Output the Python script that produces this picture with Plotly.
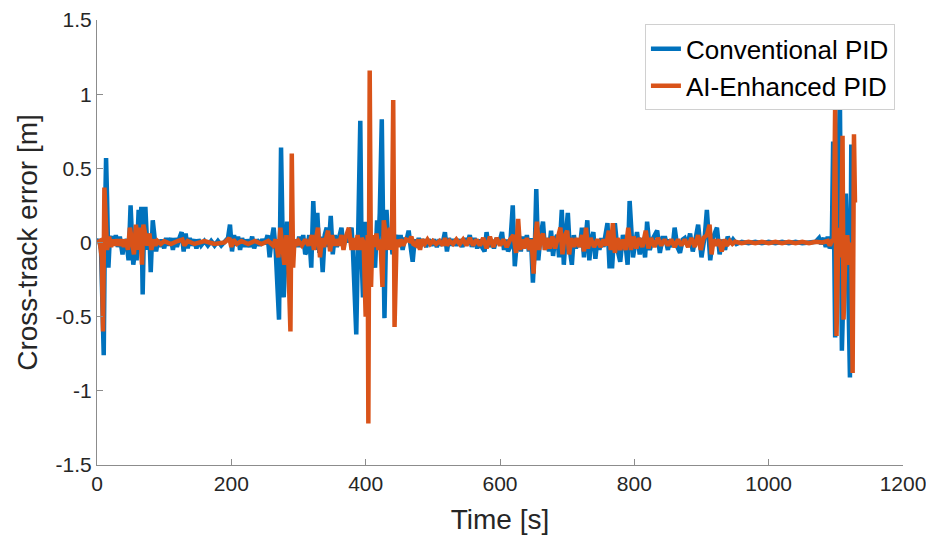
import plotly.graph_objects as go

# Conventional PID cross-track error (time [s], error [m])
t_conv = [0, 3, 6, 8, 10, 12, 13.5, 15, 17, 19, 22, 25, 28, 31, 34, 38, 41, 44, 47, 50,
          52, 54, 57, 59, 62, 64, 66, 68, 70, 72, 74, 76, 78, 80, 83, 85, 88, 91, 94, 97,
          100, 103, 106, 110, 113, 116, 119, 122, 126, 129, 132, 135, 138, 141, 145, 148, 151, 155, 160, 165,
          170, 175, 180, 185, 190, 195, 198, 201, 204, 207, 210, 213, 216, 220, 223, 227, 231, 234, 238, 242,
          246, 250, 254, 257, 260, 263, 266, 268, 271, 274, 276, 278, 281, 283, 286, 289, 292, 295, 298, 301,
          304, 307, 310, 313, 316, 319, 322, 325, 328, 331, 333, 336, 339, 342, 345, 348, 351, 354, 357, 360,
          364, 367, 370, 373, 376, 379, 381, 383, 386, 389, 392, 394, 396, 399, 401, 404, 408, 411, 414, 417,
          419, 421, 424, 426, 428, 431, 434, 437, 440, 443, 446, 449, 452, 455, 458, 461, 464, 467, 470, 473,
          476, 479, 482, 486, 490, 494, 498, 502, 506, 510, 514, 518, 521, 524, 527, 531, 535, 540, 544, 548,
          551, 555, 558, 562, 566, 570, 573, 577, 580, 583, 587, 591, 595, 599, 603, 606, 609, 612, 615, 619,
          622, 625, 628, 631, 634, 637, 640, 643, 646, 649, 652, 654, 657, 660, 664, 667, 670, 673, 676, 679,
          682, 685, 688, 692, 695, 698, 701, 704, 707, 710, 713, 716, 719, 722, 725, 728, 730, 733, 736, 739,
          742, 745, 748, 751, 754, 757, 760, 763, 767, 771, 775, 779, 783, 787, 790, 793, 798, 804, 808, 812,
          816, 819, 823, 828, 834, 838, 842, 846, 850, 853, 857, 860, 864, 868, 872, 875, 879, 883, 887, 891,
          895, 900, 905, 908, 913, 917, 923, 927, 931, 935, 939, 943, 947, 952, 960, 970, 980, 990, 1000, 1010,
          1020, 1030, 1040, 1050, 1060, 1070, 1075, 1078, 1082, 1085, 1088, 1091, 1094, 1096, 1099, 1102, 1106, 1109, 1112, 1115,
          1117, 1121, 1123, 1125]
e_conv = [0.0, 0.02, -0.05, -0.45, -0.76, 0.2, 0.57, 0.3, -0.17, 0.02, 0.04, -0.02, 0.05, -0.03, 0.04, -0.08, 0.02, 0.0, -0.12, 0.25,
          0.1, -0.15, -0.05, -0.12, 0.22, 0.05, 0.24, -0.35, 0.1, 0.24, 0.05, -0.05, 0.06, -0.2, 0.15, 0.05, -0.06, 0.02, -0.03, 0.02,
          -0.04, 0.03, -0.02, 0.03, -0.05, 0.03, -0.03, 0.02, 0.07, -0.06, 0.06, -0.04, 0.03, -0.02, 0.02, -0.04, 0.02, -0.02, 0.01, -0.02,
          0.01, -0.02, 0.01, -0.02, 0.01, 0.03, 0.12, -0.06, 0.05, -0.02, 0.04, -0.05, 0.03, -0.03, 0.02, -0.03, 0.04, -0.04, 0.02, -0.02,
          0.02, -0.01, 0.05, -0.1, 0.02, 0.1, -0.05, -0.2, -0.52, 0.64, 0.1, -0.37, -0.05, 0.14, -0.1, 0.03, -0.06, 0.02, -0.03, 0.04,
          -0.03, 0.05, -0.08, -0.05, 0.05, -0.17, 0.28, -0.05, 0.2, -0.07, 0.04, -0.2, 0.05, 0.1, -0.03, 0.18, -0.08, 0.05, -0.03, 0.02,
          0.1, -0.03, 0.05, 0.0, 0.05, 0.1, -0.05, -0.38, -0.62, 0.1, 0.82, -0.1, -0.37, 0.14, -0.1, 0.03, -0.05, 0.02, -0.17, 0.15,
          0.0, 0.2, 0.83, 0.1, -0.51, 0.22, -0.02, 0.05, -0.08, 0.02, 0.05, -0.02, 0.05, -0.05, 0.02, 0.02, 0.08, -0.03, -0.13, 0.02,
          -0.02, 0.03, -0.02, 0.02, -0.03, 0.02, -0.02, 0.02, -0.03, 0.02, -0.02, 0.07, -0.06, 0.03, -0.02, 0.02, -0.02, 0.02, -0.03, 0.03,
          -0.01, 0.05, -0.03, 0.03, -0.04, 0.02, -0.03, -0.06, 0.07, -0.03, 0.02, -0.04, 0.03, 0.0, 0.07, -0.05, 0.02, -0.06, -0.03, 0.25,
          -0.16, 0.0, 0.05, -0.06, 0.04, -0.03, 0.05, -0.06, 0.03, -0.27, 0.0, 0.36, -0.12, 0.03, 0.14, -0.05, 0.03, -0.06, 0.08, -0.09,
          0.02, 0.05, -0.1, 0.22, -0.15, 0.05, 0.2, -0.05, -0.15, 0.05, -0.04, 0.02, -0.03, 0.1, -0.1, 0.05, 0.15, -0.12, 0.02, 0.07,
          -0.11, 0.02, -0.05, 0.03, -0.03, 0.05, 0.13, -0.16, -0.16, 0.13, -0.05, -0.13, 0.05, -0.02, -0.15, 0.28, -0.1, 0.07, -0.08, 0.03,
          -0.1, 0.14, -0.05, 0.03, 0.08, -0.07, 0.03, 0.03, -0.05, 0.02, -0.03, 0.1, -0.03, -0.07, 0.02, 0.03, -0.02, 0.06, -0.06, 0.02,
          0.12, -0.1, 0.05, 0.22, -0.12, 0.03, 0.1, -0.08, 0.02, -0.05, 0.04, -0.01, 0.02, -0.01, 0.005, -0.005, 0.005, -0.005, 0.005, -0.005,
          0.005, -0.005, 0.005, -0.005, 0.0, 0.005, 0.03, -0.01, 0.03, -0.03, 0.04, -0.04, 0.0, 0.68, -0.64, 0.2, 1.0, -0.73, -0.05, 0.33,
          0.05, -0.91, 0.66, 0.1]

# AI-enhanced PID cross-track error (time [s], error [m])
t_ai = [0, 4, 7, 9, 11, 13, 15, 18, 21, 24, 27, 30, 33, 37, 40, 43, 46, 49, 52, 55,
        58, 61, 64, 67, 69, 72, 75, 78, 81, 84, 87, 90, 95, 100, 110, 120, 127, 130, 135, 145,
        160, 175, 190, 197, 200, 203, 208, 215, 225, 235, 245, 255, 262, 266, 270, 273, 276, 279, 282, 285,
        288, 290, 292, 294, 297, 300, 305, 310, 315, 320, 323, 326, 329, 332, 335, 338, 341, 344, 347, 350,
        353, 356, 360, 364, 367, 370, 375, 379, 382, 385, 388, 391, 394, 397, 400, 403, 404, 406, 408, 410,
        413, 416, 419, 422, 425, 427, 430, 433, 436, 439, 441, 443, 446, 449, 452, 456, 460, 465, 468, 471,
        475, 478, 481, 484, 488, 492, 496, 500, 505, 510, 515, 518, 521, 525, 530, 535, 540, 545, 550, 555,
        560, 565, 570, 575, 580, 585, 590, 595, 600, 605, 610, 615, 620, 624, 627, 630, 633, 636, 640, 644,
        647, 650, 652, 655, 658, 661, 664, 667, 670, 674, 678, 682, 686, 690, 693, 696, 700, 703, 706, 710,
        714, 718, 722, 725, 728, 731, 735, 740, 745, 750, 754, 758, 762, 765, 768, 771, 775, 779, 783, 787,
        791, 795, 799, 803, 807, 812, 817, 821, 825, 830, 835, 840, 845, 850, 855, 860, 865, 870, 875, 880,
        885, 890, 895, 899, 903, 908, 912, 915, 918, 922, 926, 930, 934, 938, 942, 946, 950, 960, 970, 980,
        990, 1000, 1010, 1020, 1030, 1040, 1050, 1060, 1070, 1080, 1088, 1091, 1094, 1097, 1099, 1101, 1104, 1106, 1108, 1110,
        1111.5, 1114, 1117, 1120, 1123, 1125, 1127, 1128.5]
e_ai = [0.0, 0.01, -0.1, -0.6, 0.37, 0.1, -0.05, 0.04, -0.03, 0.02, -0.02, 0.02, -0.02, 0.02, -0.03, 0.02, -0.05, 0.1, -0.02, -0.08,
        0.12, -0.05, 0.1, -0.15, 0.12, 0.06, -0.02, 0.06, -0.05, 0.02, -0.02, 0.01, -0.01, 0.01, -0.01, 0.01, 0.02, -0.02, 0.01, -0.01,
        0.01, -0.01, 0.0, 0.03, -0.03, 0.02, -0.01, 0.01, -0.01, 0.01, -0.01, 0.01, -0.02, 0.02, -0.1, 0.1, -0.05, -0.15, 0.05, -0.15,
        -0.6, 0.6, -0.17, 0.02, -0.02, 0.01, -0.02, 0.02, -0.02, 0.05, -0.05, 0.02, 0.1, -0.1, 0.03, -0.03, 0.02, 0.08, -0.06, 0.05,
        -0.02, 0.02, -0.02, 0.05, -0.05, 0.03, 0.1, -0.05, 0.03, -0.05, 0.05, -0.05, 0.03, 0.0, -0.5, 0.05, -1.22, 1.16, -0.3, 0.05,
        -0.03, 0.06, -0.05, 0.02, -0.3, 0.15, 0.05, -0.05, 0.1, -0.05, 0.96, -0.57, 0.02, -0.03, 0.02, -0.02, 0.02, 0.01, 0.04, -0.01,
        -0.02, 0.02, -0.05, 0.02, -0.01, 0.02, -0.01, 0.01, -0.01, 0.01, -0.02, 0.03, -0.02, 0.01, -0.01, 0.02, -0.01, 0.02, -0.02, 0.03,
        -0.02, 0.02, -0.02, 0.03, -0.04, 0.04, -0.03, 0.03, -0.02, 0.02, -0.03, 0.02, 0.05, -0.07, 0.16, -0.05, 0.02, -0.04, 0.03, -0.05,
        0.02, -0.21, 0.0, 0.14, -0.05, 0.03, 0.06, -0.05, 0.03, -0.04, 0.04, -0.04, 0.03, 0.1, -0.08, 0.04, 0.08, -0.08, 0.03, -0.03,
        0.03, -0.03, 0.05, -0.06, 0.1, -0.04, 0.03, -0.03, 0.02, -0.03, 0.02, -0.02, 0.08, -0.05, 0.13, -0.07, 0.03, -0.05, 0.02, -0.05,
        0.1, -0.05, 0.04, -0.04, 0.03, -0.03, 0.08, -0.04, 0.03, -0.03, 0.03, -0.02, 0.02, -0.02, 0.02, -0.03, 0.02, -0.02, 0.02, -0.03,
        0.03, -0.03, 0.05, -0.05, 0.03, 0.05, 0.12, -0.08, 0.02, -0.02, 0.02, -0.06, 0.02, -0.02, 0.01, -0.01, 0.005, -0.005, 0.005, -0.005,
        0.005, -0.005, 0.005, -0.005, 0.005, -0.005, 0.005, -0.005, 0.005, 0.0, 0.01, -0.02, 0.01, 0.02, 0.93, -0.63, 0.1, -0.1, 0.05, 0.72,
        -0.52, -0.1, 0.05, -0.15, 0.0, -0.88, 0.73, 0.27]

x_ticks = [0, 200, 400, 600, 800, 1000, 1200]
y_ticks = [-1.5, -1, -0.5, 0, 0.5, 1, 1.5]
y_tick_text = ["-1.5", "-1", "-0.5", "0", "0.5", "1", "1.5"]

font = "Liberation Sans, Arial, sans-serif"

fig = go.Figure()
fig.add_trace(go.Scatter(x=t_conv, y=e_conv, mode="lines", name="Conventional PID",
                         line=dict(color="#0072BD", width=4.5)))
fig.add_trace(go.Scatter(x=t_ai, y=e_ai, mode="lines", name="AI-Enhanced PID",
                         line=dict(color="#D95319", width=4.5)))

axis_common = dict(showgrid=False, zeroline=False, showline=True, linecolor="#8c8c8c", linewidth=1,
                   ticks="inside", ticklen=6, tickcolor="#8c8c8c", mirror=False, automargin=False,
                   tickfont=dict(family=font, size=21, color="#262626"))

fig.update_xaxes(range=[0, 1200], tickvals=x_ticks,
                 title=dict(text="Time [s]", font=dict(family=font, size=28, color="#262626"), standoff=15),
                 **axis_common)
fig.update_yaxes(range=[-1.5, 1.5], tickvals=y_ticks, ticktext=y_tick_text,
                 title=dict(text="Cross-track error [m]", font=dict(family=font, size=28, color="#262626"), standoff=9),
                 **axis_common)

# the page body adds an 8px offset, so the figure is 8px smaller than the window
fig.update_layout(
    width=926, height=537,
    margin=dict(l=89, r=31, t=12, b=80),
    plot_bgcolor="white", paper_bgcolor="white",
    font=dict(family=font, color="#262626"),
    legend=dict(x=0.99, y=0.99, xanchor="right", yanchor="top",
                bgcolor="white", bordercolor="#d0d0d0", borderwidth=1,
                font=dict(family=font, size=26, color="black"),
                itemwidth=30, tracegroupgap=0),
    showlegend=True,
)

fig.write_html("out.html")
